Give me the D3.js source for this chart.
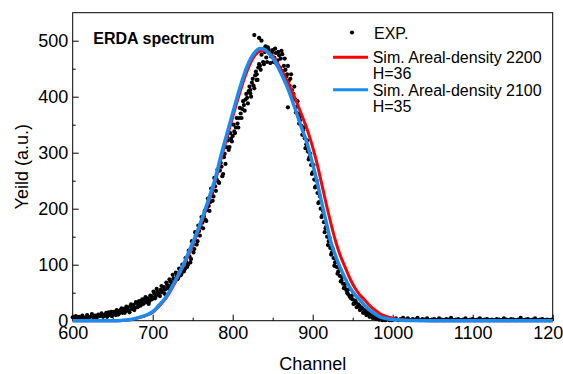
<!DOCTYPE html>
<html>
<head>
<meta charset="utf-8">
<script src="https://cdn.jsdelivr.net/npm/d3@7"></script>
<style>
body { margin: 0; background: #fff; }
text { font-family: "Liberation Sans", Arial, sans-serif; fill: #000; }
</style>
</head>
<body>
<div id="mychart"></div>
<script>
var expData = [
  [600,6],[602,4],[604,8],[606,3],[608,7],[610,5],[612,9],[614,4],[616,6],[618,10],[620,5],[622,7],[624,12],[626,6],[628,9],
  [630,5],[632,11],[634,8],[636,13],[638,7],[640,10],[642,14],[644,9],[646,12],[648,16],
  [650,11],[652,15],[654,10],[656,17],[658,13],[660,19],[662,14],[664,21],[666,17],[668,24],[670,18],[672,26],[674,21],
  [676,28],[678,23],[680,31],[682,26],[684,29],[686,35],[688,30],[690,37],[692,33],[694,40],[696,35],[698,44],
  [700,41],[702,48],[704,44],[706,52],[708,47],[710,55],[712,51],[714,60],[716,56],[718,64],[720,61],[722,70],[724,66],
  [726,75],[728,72],[730,80],[732,77],[734,88],[736,84],[738,95],[740,92],[742,104],[744,100],[746,115],[748,110],
  [750,135],[752,128],[754,152],[756,142],[758,160],[760,168],[762,175],[764,186],[766,180],[768,198],[770,205],[772,212],
  [774,228],[776,222],[778,240],[780,252],[782,248],[784,268],[786,275],[788,262],[790,298],[792,310],[794,322],[796,310],[798,325],
  [800,330],[802,338],[804,345],[806,352],[808,362],[810,370],[812,378],[814,385],[816,395],[818,398],[820,410],[822,412],
  [824,425],[826,420],[828,438],[830,440],[832,452],[834,455],[836,475],[838,462],[840,480],[842,470],[844,488],[846,478],[848,472],
  [827,510],[833,505],[836,500],[822,406],[830,430],
  [850,483],[852,470],[854,478],[856,465],[858,474],[860,468],[862,476],[864,455],[866,448],[868,440],[870,428],[872,432],
  [874,412],[876,405],[878,395],[880,382],[882,370],[884,358],[886,348],[888,340],[890,326],[892,315],[894,302],[896,292],[898,278],
  [869,381],
  [900,265],[902,252],[904,240],[906,228],[908,212],[910,200],[912,188],[914,176],[916,165],[918,150],[920,142],[922,130],
  [924,122],[926,112],[928,104],[930,96],[932,88],[934,80],[936,72],[938,66],[940,60],[942,55],[944,48],[946,44],[948,40],
  [950,38],[952,31],[954,33],[956,25],[958,27],[960,20],[962,22],[964,15],[966,17],[968,12],[970,14],[972,9],[974,10],
  [976,6],[978,8],[980,4],[982,6],[984,3],[986,5],[988,2],[990,4],[992,2],[994,3],[996,1],[998,3],
  // odd channels
  [641,12],[643,7],[645,15],[647,10],[649,8],[651,16],[653,12],[655,19],[657,11],[659,16],[661,22],[663,17],[665,14],
  [667,25],[669,20],[671,15],[673,29],[675,22],[677,19],[679,33],[681,24],[683,35],[685,27],[687,38],[689,31],[691,42],
  [693,36],[695,30],[697,45],[699,38],
  [701,52],[703,40],[705,57],[707,49],[709,44],[711,62],[713,54],[715,48],[717,68],[719,58],[721,74],[723,63],[725,82],
  [727,70],[729,86],[731,74],[733,93],[735,81],[737,100],[739,88],[741,112],[743,96],[745,125],[747,104],[749,142],
  [751,122],[753,158],[755,136],[757,170],[759,152],[761,185],[763,165],[765,196],[767,178],[769,218],[771,196],[773,236],
  [775,214],[777,255],[779,232],[781,270],[783,246],[785,282],[787,258],[789,292],[791,280],[793,328],[795,305],[797,335],[799,320],
  [801,350],[803,335],[805,362],[807,345],[809,380],[811,362],[813,392],[815,375],[817,405],[819,388],[821,418],[823,400],
  [825,432],[827,415],[829,445],[831,430],[833,458],[835,448],[837,485],[839,458],[841,490],[843,462],[845,484],[847,460],[849,478],
  [851,462],[853,486],[855,458],[857,480],[859,452],[861,482],[863,446],[865,468],[867,436],[869,455],[871,420],[873,440],
  [875,398],[877,418],[879,372],[881,392],[883,352],[885,365],[887,332],[889,345],[891,308],[893,322],[895,288],[897,298],[899,262],
  [901,278],[903,238],[905,250],[907,210],[909,222],[911,185],[913,196],[915,158],[917,168],[919,135],[921,148],[923,118],
  [925,128],[927,98],[929,110],[931,84],[933,95],[935,70],[937,78],[939,58],[941,66],[943,50],[945,56],[947,42],[949,45],
  [951,30],[953,36],[955,24],[957,29],[959,19],[961,24],[963,14],[965,19],[967,10],[969,15],[971,7],[973,12],[975,5],
  [977,9],[979,3],[981,7],[983,2],[985,5],[987,1],[989,4],[991,1],[993,3],[995,2],[997,4],[999,1],
  // tail
  [1001,2],[1004,4],[1007,1],[1010,3],[1013,5],[1016,2],[1019,4],[1022,1],[1025,3],[1028,2],[1031,5],[1034,1],[1037,3],
  [1040,2],[1043,4],[1046,1],[1049,2],[1052,3],[1055,1],[1058,4],[1061,2],[1064,1],[1067,3],[1070,2],[1073,5],[1076,1],
  [1079,2],[1082,3],[1085,1],[1088,2],[1091,4],[1094,1],[1097,2],[1100,3],[1103,1],[1106,2],[1109,4],[1112,1],[1115,2],
  [1118,3],[1121,1],[1124,2],[1127,1],[1130,3],[1133,2],[1136,1],[1139,4],[1142,2],[1145,1],[1148,3],[1151,2],[1154,1],
  [1157,2],[1160,5],[1163,1],[1166,2],[1169,3],[1172,1],[1175,2],[1178,4],[1181,1],[1184,2],[1187,3],[1190,1],[1193,2],
  [1196,1],[1199,2]
];

// simulation, areal density 2200, H=36
var sim2200 = [
  [600,0],[650,0],[661,0.4],[672,1.8],[683,5.5],[692,9.5],[700,15],[708,26],[717,41],[725,60],[733,82],[740,102],
  [746,122],[752,142],[758,164],[765,192],[772,221],[778,248],[785,287],[793,328],[801,369],[809,408],[818,446],
  [826,470],[834,481],[840,482],[846,478],[852,469],[860,450],[868,428],[874,410],[880,390],[886,368],[893,342],
  [899,315],[905,283],[911,246],[917,208],[922,178],[928,145],[934,118],[941,94],[947,74],[953,58],[959,46],[965,37],
  [972,26],[979,18],[986,11],[993,7],[1000,4],[1010,2],[1020,0.8],[1035,0.2],[1060,0],[1200,0]
];

// simulation, areal density 2100, H=35
var sim2100 = [
  [600,0],[650,0],[661,0.5],[672,2],[683,6],[692,10],[700,16],[708,28],[717,43],[725,63],[733,85],[740,105],
  [746,126],[752,146],[758,168],[765,196],[772,226],[778,253],[785,293],[793,335],[801,376],[809,416],[818,454],
  [826,476],[834,486],[840,484],[846,476],[852,465],[860,443],[868,418],[874,395],[880,370],[886,345],[893,317],
  [899,285],[905,251],[911,212],[917,175],[922,144],[928,118],[934,96],[940,77],[947,58],[953,46],[959,37],[965,27],
  [972,18],[978,12],[984,7],[992,4],[1000,2],[1010,1],[1020,0.3],[1050,0],[1200,0]
];

var xTicks = [600, 700, 800, 900, 1000, 1100, 1200];
var yTicks = [0, 100, 200, 300, 400, 500];
var legendLabels = [["Sim. Areal-density 2200", "H=36"], ["Sim. Areal-density 2100", "H=35"]];

var svg = d3.select("#mychart").append("svg")
    .attr("width", 563)
    .attr("height", 374);

var x = d3.scaleLinear()
    .domain([600, 1200])
    .range([72.7, 552.7]);

var y = d3.scaleLinear()
    .domain([0, 550])
    .range([320.7, 12.7]);

// minor ticks first
svg.append("g")
    .attr("transform", "translate(0,320.7)")
    .call(d3.axisBottom(x).tickValues([650, 750, 850, 950, 1050, 1150]).tickSize(-3).tickFormat(""))
    .call(function(g) { g.select(".domain").remove(); });

svg.append("g")
    .attr("transform", "translate(72.7,0)")
    .call(d3.axisLeft(y).tickValues([50, 150, 250, 350, 450]).tickSize(-3).tickFormat(""))
    .call(function(g) { g.select(".domain").remove(); });

var xAxis = svg.append("g")
    .attr("transform", "translate(0,320.7)")
    .call(d3.axisBottom(x).tickValues(xTicks).tickSize(-6).tickPadding(6).tickFormat(d3.format("d")));
xAxis.select(".domain").remove();
xAxis.selectAll("text").style("font-size", "18px");

var yAxis = svg.append("g")
    .attr("transform", "translate(72.7,0)")
    .call(d3.axisLeft(y).tickValues(yTicks).tickSize(-6).tickPadding(4.5).tickFormat(d3.format("d")));
yAxis.select(".domain").remove();
yAxis.selectAll("text").style("font-size", "18px");

// frame
svg.append("rect")
    .attr("x", x(600))
    .attr("y", y(550))
    .attr("width", x(1200) - x(600))
    .attr("height", y(0) - y(550))
    .attr("fill", "none")
    .attr("stroke", "#000")
    .attr("stroke-width", 1);

// data points
svg.selectAll(".dot")
    .data(expData)
    .enter().append("circle")
    .attr("class", "dot")
    .attr("cx", function(d) { return x(d[0]); })
    .attr("cy", function(d) { return y(d[1]); })
    .attr("r", 2.1)
    .attr("fill", "#000");

var line = d3.line()
    .x(function(d) { return x(d[0]); })
    .y(function(d) { return y(d[1]); })
    .curve(d3.curveMonotoneX);

svg.append("path")
    .datum(sim2200)
    .attr("d", line)
    .attr("fill", "none")
    .attr("stroke", "#ff0000")
    .attr("stroke-width", 3);

svg.append("path")
    .datum(sim2100)
    .attr("d", line)
    .attr("fill", "none")
    .attr("stroke", "#1a8cf0")
    .attr("stroke-width", 3.5);

// title inside plot
svg.append("text")
    .attr("x", 93.3)
    .attr("y", 44.3)
    .style("font-size", "16px")
    .style("font-weight", "bold")
    .text("ERDA spectrum");

// axis titles
svg.append("text")
    .attr("x", (x(600) + x(1200)) / 2)
    .attr("y", 369.5)
    .attr("text-anchor", "middle")
    .style("font-size", "18px")
    .text("Channel");

svg.append("text")
    .attr("transform", "translate(28," + (y(0) + y(550)) / 2 + ") rotate(-90)")
    .attr("text-anchor", "middle")
    .style("font-size", "18px")
    .text("Yeild (a.u.)");

// legend
var legend = svg.append("g");
legend.append("circle")
    .attr("cx", 352).attr("cy", 32.5).attr("r", 2.1).attr("fill", "#000");
legend.append("text")
    .attr("x", 374).attr("y", 38.8)
    .style("font-size", "16px")
    .text("EXP.");

var legendColors = ["#ff0000", "#1a8cf0"];
var legendY = [57.2, 89.7];
legendLabels.forEach(function(lab, i) {
    legend.append("line")
        .attr("x1", 333).attr("x2", 368)
        .attr("y1", legendY[i]).attr("y2", legendY[i])
        .attr("stroke", legendColors[i])
        .attr("stroke-width", 3);
    legend.append("text")
        .attr("x", 372.7).attr("y", legendY[i] + 6.2)
        .style("font-size", "16px")
        .text(lab[0]);
    legend.append("text")
        .attr("x", 372.7).attr("y", legendY[i] + 22.2)
        .style("font-size", "16px")
        .text(lab[1]);
});
</script>
</body>
</html>
